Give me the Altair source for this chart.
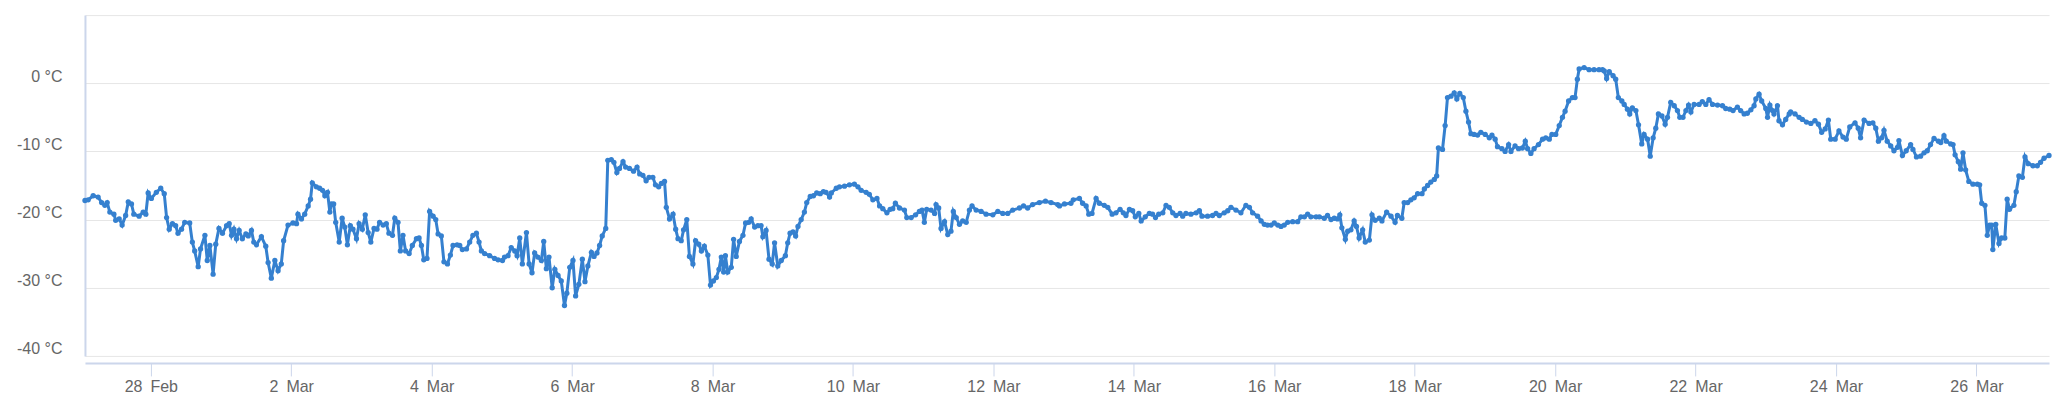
import altair as alt
import pandas as pd

# hours after 27 Feb 2023 00:00
hours = [
    1.5, 2.6, 4.3, 6.0, 7.2, 8.3, 9.1, 10.0, 11.4, 12.0, 13.2, 14.2, 15.4, 16.3, 17.4, 18.2, 20.0, 21.4, 22.3, 23.1,
    24.2, 25.9, 27.4, 28.6, 29.4, 30.3, 31.4, 32.5, 33.3, 34.5, 35.6, 37.3, 38.2, 39.0, 40.2, 41.0, 42.5, 43.3, 44.2, 45.3,
    46.2, 47.3, 48.5, 49.9, 50.8, 51.6, 52.4, 53.3, 54.2, 55.3, 56.5, 57.3, 58.4, 59.2, 60.1, 61.8, 63.3, 64.1, 65.2, 66.4,
    67.5, 68.6, 69.4, 70.9, 72.6, 73.8, 74.3, 75.5, 76.6, 77.8, 78.6, 79.2, 80.6, 81.7, 82.7, 83.5, 84.4, 85.2,
    85.7, 86.5, 87.2, 88.4, 89.4, 90.3, 91.2, 92.2, 93.1, 94.3, 95.2, 96.3, 97.3, 98.3, 99.2, 100.3, 101.3, 102.2, 103.4, 104.5,
    105.4, 106.6, 107.4, 108.5, 109.3, 110.2, 111.1, 112.3, 113.4, 114.8, 115.7, 116.5, 117.3, 118.4, 119.3, 120.5, 121.4, 122.2, 123.3, 124.2,
    125.4, 126.4, 127.3, 128.7, 129.6, 130.5, 131.9, 133.0, 134.1, 135.3, 136.2, 137.0, 138.1, 139.8, 141.5, 142.7, 144.2, 144.9, 146.1, 147.2,
    148.4, 149.2, 150.1, 151.0, 152.4, 153.3, 154.3, 155.2, 156.3, 157.5, 158.3, 159.2, 160.1, 161.2, 162.1, 163.2, 164.3, 165.4, 166.2, 167.2,
    168.3, 169.2, 170.3, 171.5, 172.4, 173.4, 174.6, 175.5, 176.5, 177.4, 178.3, 179.5, 180.2, 181.4, 182.3, 183.3, 184.2, 185.4, 186.3, 187.6,
    189.0, 190.2, 191.1, 192.2, 193.3, 194.3, 195.6, 196.5, 197.6, 198.5, 199.6, 200.2, 201.3, 202.5, 203.4, 204.2, 205.3, 206.1, 207.2, 208.1,
    209.3, 210.2, 211.3, 212.2, 213.2, 214.4, 215.3, 216.3, 217.3, 218.2, 219.0, 219.8, 220.4, 221.2, 222.4, 223.2, 224.1, 225.2, 226.4, 227.3,
    228.4, 229.2, 230.4, 231.5, 232.6, 233.2, 234.3, 235.3, 236.4, 237.2, 238.3, 239.5, 240.9, 241.7, 242.5, 243.5, 244.4, 245.2, 246.3, 247.4,
    248.2, 249.4, 250.5, 251.6, 252.8, 253.9, 254.8, 256.0,
    256.6, 258.3, 259.4, 261.1, 262.8, 264.5, 265.7, 266.8, 268.5, 269.6, 270.8, 272.2, 273.1, 274.2, 275.6, 276.7, 277.6, 278.5, 279.9, 281.6,
    282.4, 283.9, 285.4, 286.7, 287.6, 288.4, 289.2, 290.7, 291.9, 292.4, 293.3, 294.1, 295.3, 296.4, 297.5, 298.3, 299.3, 300.4, 301.5, 302.7,
    303.8, 304.7, 306.1, 307.8, 309.5, 311.8, 313.5, 315.2, 316.9, 318.6, 320.9, 322.3, 323.7, 325.4, 327.7, 329.8, 331.7, 334.0,
    334.6, 336.3, 338.5, 339.3, 341.4, 342.5, 343.7, 344.6, 345.7, 347.1, 348.2, 349.9, 351.1, 352.6, 353.9, 355.3, 356.4, 357.3, 358.5, 359.6,
    360.5, 361.7, 362.5, 363.9, 365.3, 366.4, 367.4, 368.5, 369.9, 371.0, 372.1, 373.3, 374.4, 375.8, 376.7, 377.8, 379.5, 381.3, 382.4, 383.3,
    385.2, 386.9, 388.1, 389.2, 390.9, 392.1, 393.2, 394.9, 396.6, 398.3, 399.5, 400.6, 402.3, 403.5, 404.6, 405.7, 406.9, 408.0, 409.2, 410.3,
    411.4, 412.6, 414.3, 416.0, 417.1, 418.3, 419.4, 420.5, 422.3, 423.4,
    425.1, 426.2, 427.4, 428.5, 429.6, 430.4, 431.1, 432.3, 433.1, 434.2, 435.3, 436.1, 437.0, 438.2, 439.1, 440.5, 441.4, 442.5, 443.9, 444.8,
    446.4, 447.9, 449.3, 450.1, 451.6, 452.4, 453.6, 454.7, 455.8, 457.0, 458.5, 459.3, 460.4, 461.5, 462.7, 463.5, 464.1, 465.5, 466.4, 467.2,
    468.4, 469.5, 470.4, 471.4, 472.6, 473.5, 474.4, 475.2, 476.3, 477.5, 478.6, 480.1, 481.5, 482.4, 483.5, 484.3, 485.8, 486.9, 488.1, 488.9,
    490.3, 491.5, 492.8, 493.8, 494.6, 495.7, 496.8, 498.3, 499.7, 500.8, 502.0, 502.9, 504.2, 505.4, 506.5, 507.4, 508.6, 509.9, 510.8, 511.6,
    512.2,
    513.9, 515.6, 517.3, 519.0, 520.2, 520.8, 521.6, 522.5, 523.8, 524.7, 525.6, 526.8, 527.6, 528.7, 529.5, 530.4, 531.6, 532.5, 533.6, 534.4,
    535.6, 536.5, 537.5, 538.4, 539.3, 540.5, 541.6, 542.4, 543.5, 544.7, 545.8, 546.6, 547.7, 548.7, 549.6, 550.4, 551.5, 553.2, 554.3, 555.5,
    556.6, 557.8, 559.5, 561.2, 562.3, 563.7, 564.8, 566.3, 567.4, 568.6, 569.7, 570.9, 572.0, 572.6, 573.7, 574.6, 576.0, 576.6, 577.4, 578.3,
    578.8, 580.0, 580.5, 581.7, 582.8, 584.0, 584.5, 586.0, 587.4, 588.5, 589.9, 591.4, 592.8, 594.0, 595.1, 596.3, 597.4, 598.2, 599.7, 601.0,
    602.4, 603.5, 604.7, 606.5, 607.6, 608.4, 609.6, 611.3, 612.6, 613.6, 614.5, 615.6, 616.4, 617.5, 618.7, 619.8, 621.0, 621.5, 622.7, 624.0,
    625.5, 626.3, 627.5, 628.9, 630.1, 631.2, 632.3, 633.5, 635.0, 635.8, 636.9, 637.7, 639.2, 640.0, 640.7, 641.8, 642.6, 643.4, 644.3, 645.4,
    646.8, 648.3, 649.1, 649.8, 650.9, 651.7, 652.5, 653.2, 653.6, 654.6, 655.7, 656.6, 657.7, 658.5, 659.3, 660.8, 661.6, 662.5, 663.7, 664.6,
    665.7, 667.3, 668.8, 669.9, 671.1, 672.8,
]

temp_c = [
    -17.2, -17.1, -16.5, -16.7, -17.5, -17.9, -17.5, -18.9, -19.2, -20.1, -19.9, -20.8, -19.4, -17.4, -17.7, -19.2, -19.5, -18.9, -19.2, -16.1,
    -16.9, -16.0, -15.4, -16.2, -19.7, -21.4, -20.6, -20.9, -22.0, -21.4, -20.4, -20.5, -23.3, -24.6, -26.9, -24.3, -22.3, -26.0, -23.8, -28.0,
    -23.6, -21.3, -22.0, -20.9, -20.6, -22.3, -21.4, -22.8, -21.6, -22.8, -22.1, -22.4, -21.6, -23.3, -23.7, -22.5, -23.9, -26.3, -28.6, -26.0,
    -27.5, -26.5, -23.1, -20.8, -20.5, -20.6, -19.2, -19.9, -19.2, -18.0, -17.0, -14.6, -15.2, -15.4, -15.7, -16.5, -16.0, -18.9,
    -17.7, -17.7, -20.4, -23.3, -19.8, -21.1, -23.7, -20.9, -21.4, -22.8, -20.6, -21.4, -19.3, -21.9, -23.3, -21.3, -21.4, -20.4, -20.8, -20.6,
    -22.0, -22.3, -19.8, -20.4, -24.6, -22.3, -24.6, -25.0, -23.8, -22.8, -22.7, -23.8, -25.9, -25.7, -18.8, -19.5, -20.0, -22.1, -22.4, -26.2,
    -26.5, -25.2, -23.8, -23.7, -23.8, -24.4, -24.3, -23.3, -22.3, -22.0, -23.3, -24.6, -25.0, -25.3, -25.7, -25.9, -26.0, -25.5, -25.3, -24.1,
    -24.6, -25.3, -22.7, -26.5, -21.9, -26.5, -27.8, -24.9, -25.5, -26.0, -23.2, -27.2, -25.5, -30.0, -27.3, -28.2, -29.0, -32.6, -30.8, -27.0,
    -26.0, -31.2, -29.5, -25.8, -29.1, -26.8, -24.8, -25.4, -24.9, -23.8, -22.4, -21.3, -11.3, -11.2, -11.6, -13.1, -12.5, -11.5, -12.3, -12.5,
    -12.9, -12.3, -13.3, -13.5, -14.3, -13.8, -13.8, -14.9, -15.2, -14.7, -14.4, -18.2, -19.9, -19.2, -21.4, -22.8, -23.1, -21.5, -20.0, -25.4,
    -26.5, -23.1, -23.6, -24.6, -23.9, -25.2, -29.6, -29.0, -28.5, -27.3, -25.5, -27.7, -25.3, -27.7, -27.0, -22.9, -25.4, -23.2, -22.3, -20.5,
    -20.4, -19.9, -21.1, -20.9, -20.9, -22.5, -21.6, -25.8, -26.5, -23.4, -26.8, -26.0, -25.3, -23.4, -22.0, -21.8, -22.4, -21.0, -20.0, -18.9,
    -17.5, -16.6, -16.5, -16.1, -16.2, -15.9, -16.0, -16.7,
    -16.1, -15.4, -15.2, -15.1, -14.9, -14.8, -15.2, -15.7, -16.0, -16.3, -17.1, -16.9, -18.0, -18.4, -19.0, -18.5, -18.4, -17.6, -18.3, -18.6,
    -19.7, -19.7, -19.3, -18.8, -18.6, -20.4, -18.5, -18.6, -19.1, -17.8, -18.3, -21.3, -20.3, -22.2, -21.7, -18.8, -19.7, -20.7, -20.2, -20.4,
    -18.6, -18.0, -18.6, -18.8, -19.2, -19.3, -18.8, -19.1, -19.1, -18.6, -18.3, -18.0, -18.3, -17.8, -17.5, -17.3, -17.5, -17.8,
    -18.0, -17.7, -17.6, -17.1, -16.9, -17.6, -18.0, -19.2, -19.1, -16.9, -17.6, -17.9, -18.2, -19.2, -19.0, -18.5, -19.0, -19.4, -18.5, -18.7,
    -19.6, -19.1, -20.2, -19.6, -19.1, -19.2, -19.7, -19.2, -19.0, -17.9, -18.2, -19.0, -19.4, -19.1, -19.5, -19.1, -19.2, -19.0, -18.7, -19.5,
    -19.5, -19.4, -19.1, -19.4, -19.0, -18.7, -18.2, -18.6, -19.0, -17.9, -18.2, -19.0, -19.5, -20.2, -20.7, -20.8, -20.8, -20.5, -20.8, -21.0,
    -20.8, -20.4, -20.3, -20.3, -19.6, -19.6, -19.2, -19.6, -19.6, -19.6,
    -19.8, -19.4, -20.0, -19.8, -19.9, -19.3, -21.2, -22.9, -21.7, -21.5, -20.2, -21.0, -22.7, -21.5, -23.3, -23.0, -19.3, -20.1, -19.8, -20.2,
    -18.9, -19.5, -20.4, -19.4, -19.8, -17.5, -17.5, -17.1, -16.8, -16.2, -16.2, -15.5, -15.0, -14.5, -14.1, -13.6, -9.5, -9.7, -6.2, -2.1,
    -1.9, -1.4, -2.3, -1.5, -2.1, -4.1, -5.7, -7.4, -7.5, -7.6, -7.2, -7.5, -8.0, -7.6, -8.2, -9.3, -9.6, -10.0, -9.0, -10.0,
    -9.2, -9.6, -9.5, -8.5, -9.6, -10.3, -9.6, -9.0, -8.2, -8.0, -8.2, -7.5, -7.5, -6.2, -5.0, -4.1, -2.6, -2.1, -2.1, 0.6,
    2.1,
    2.3, 2.0, 2.0, 2.0, 2.0, 1.8, 0.7, 1.7, 1.1, 0.6, -2.1, -2.6, -3.1, -3.8, -4.5, -3.6, -4.0, -6.1, -8.9, -7.5,
    -8.2, -10.7, -8.0, -6.6, -4.5, -4.8, -6.0, -5.0, -2.8, -3.3, -4.0, -5.0, -5.0, -4.0, -3.2, -4.2, -3.1, -3.1, -2.7, -3.1,
    -2.4, -3.1, -3.2, -3.3, -3.7, -3.8, -4.0, -3.5, -4.0, -4.5, -4.4, -3.9, -3.3, -2.3, -1.6, -2.6, -3.7, -5.0, -3.2, -4.0,
    -4.5, -3.3, -5.5, -6.1, -5.3, -4.5, -4.2, -4.5, -5.0, -5.3, -5.7, -5.9, -5.5, -6.0, -7.2, -6.7, -5.4, -8.2, -8.2, -7.0,
    -7.9, -8.2, -6.4, -5.8, -6.6, -8.0, -5.4, -5.9, -5.8, -6.6, -8.5, -8.0, -6.9, -8.5, -9.2, -9.9, -9.4, -8.4, -10.6, -9.9,
    -9.0, -9.7, -10.8, -10.7, -10.2, -9.9, -9.0, -8.1, -8.5, -8.7, -7.7, -8.5, -8.9, -9.0, -10.5, -11.5, -12.6, -10.2, -12.7, -14.4,
    -14.8, -14.8, -14.9, -17.6, -17.9, -22.3, -20.8, -20.8, -24.4, -20.7, -23.5, -22.7, -22.7, -17.0, -18.5, -17.9, -15.9, -13.6, -13.8, -10.8,
    -11.8, -12.1, -12.1, -11.6, -11.0, -10.6,
]

tick_days = ["2023-02-28", "2023-03-02", "2023-03-04", "2023-03-06", "2023-03-08", "2023-03-10", "2023-03-12",
             "2023-03-14", "2023-03-16", "2023-03-18", "2023-03-20", "2023-03-22", "2023-03-24", "2023-03-26"]
y_ticks = [-40, -30, -20, -10, 0, 10]

BLUE = "#3580cf"
AXIS_BLUE = "#ccd6eb"
LABEL = "#666666"
FONT = "Liberation Sans"

start = pd.Timestamp("2023-02-27 00:00")
df = pd.DataFrame({"time": start + pd.to_timedelta(hours, unit="h"), "temp": temp_c})


def dt(t):
    t = pd.Timestamp(t)
    return alt.DateTime(year=t.year, month=t.month, date=t.day, hours=t.hour,
                        minutes=t.minute, seconds=t.second)


x_domain = [dt(df["time"].iloc[0]), dt(df["time"].iloc[-1])]

chart = alt.Chart(df).mark_line(
    color=BLUE, strokeWidth=3,
    point=alt.OverlayMarkDef(filled=True, size=28, color=BLUE, opacity=1),
).encode(
    x=alt.X("time:T",
            scale=alt.Scale(domain=x_domain, nice=False),
            axis=alt.Axis(values=[dt(s) for s in tick_days], format="%-d\u2002%b", title=None,
                          grid=False, offset=7, domainColor=AXIS_BLUE, domainWidth=2,
                          tickColor=AXIS_BLUE, tickSize=13, tickWidth=1, labelPadding=3,
                          labelFontSize=16, labelColor=LABEL, labelFont=FONT)),
    y=alt.Y("temp:Q",
            scale=alt.Scale(domain=[-40, 10], nice=False, zero=False),
            axis=alt.Axis(values=y_ticks, title=None,
                          labelExpr="datum.value >= 10 ? '' : datum.value + ' °C'",
                          grid=True, gridColor="#e6e6e6", gridWidth=1,
                          ticks=False, tickSize=0, domainColor=AXIS_BLUE, domainWidth=2,
                          labelPadding=23, labelFontSize=16, labelColor=LABEL, labelFont=FONT,
                          labelBaseline="alphabetic", labelOffset=-2)),
).properties(
    width=1965, height=341,
    autosize=alt.AutoSizeParams(type="none"),
    padding={"left": 77, "top": 7, "right": 10, "bottom": 50},
).configure_view(strokeWidth=0)

chart.save("out.html", embed_options={"renderer": "svg", "actions": False})
